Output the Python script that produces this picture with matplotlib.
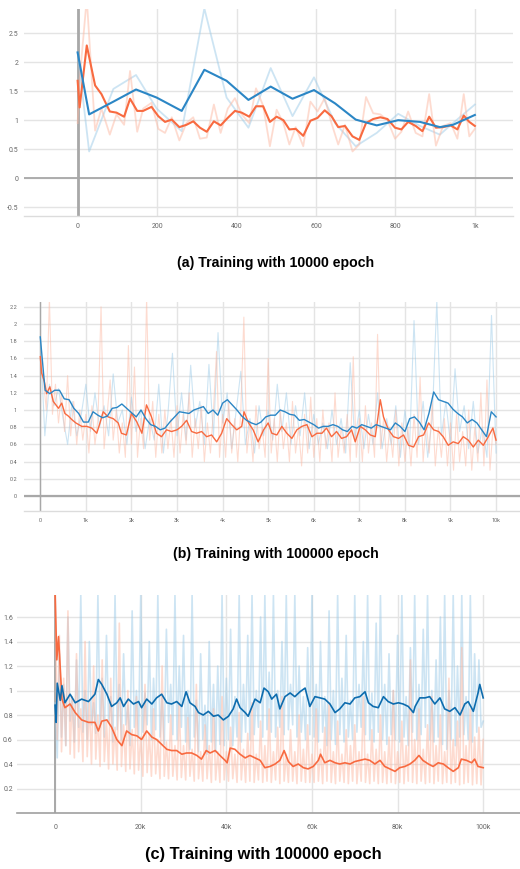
import numpy as np
import matplotlib
matplotlib.use("Agg")
import matplotlib.pyplot as plt

# ---------------- data (a) ----------------
a_orange_x = [0, 5, 23, 44, 60, 81, 98, 117, 132, 150, 165, 186, 203, 220, 237, 256, 274, 291, 308, 325,
              343, 360, 378, 396, 413, 432, 449, 467, 484, 501, 518, 533, 549, 568, 586, 604, 622, 639, 656, 673,
              692, 709, 726, 744, 762, 780, 799, 815, 832, 851, 868, 885, 902, 920, 939, 956, 972, 986, 1000]
a_orange_smooth = [1.68, 1.22, 2.29, 1.6, 1.45, 1.15, 1.13, 1.06, 1.37, 1.16, 1.16, 1.23, 1.07, 0.97, 1.01, 0.88, 0.92, 0.98, 0.87, 0.80,
                   0.98, 0.91, 1.04, 1.16, 1.13, 1.06, 1.24, 1.24, 0.97, 1.06, 1.0, 0.84, 0.85, 0.73, 0.99, 1.04, 1.17, 1.07, 0.88, 0.90,
                   0.72, 0.66, 0.95, 1.02, 1.05, 1.02, 0.87, 0.84, 0.97, 0.90, 0.81, 1.06, 0.87, 0.88, 0.91, 0.84, 1.08, 0.97, 0.90]
a_orange_raw = [0.95, 1.7, 3.1, 0.82, 1.2, 0.75, 1.1, 0.92, 1.85, 0.8, 1.2, 1.3, 0.85, 0.78, 1.05, 0.65, 0.95, 1.05, 0.68, 0.70,
                1.27, 0.78, 1.2, 1.38, 1.1, 0.95, 1.55, 1.25, 0.55, 1.18, 0.95, 0.58, 0.88, 0.55, 1.32, 1.15, 1.38, 0.95, 0.58, 0.92,
                0.46, 0.58, 1.4, 1.12, 1.1, 1.0, 0.68, 0.8, 1.15, 0.78, 0.72, 1.45, 0.56, 0.9, 0.95, 0.68, 1.45, 0.72, 0.85]
a_blue_x = [0, 29, 90, 147, 199, 262, 319, 375, 430, 486, 541, 595, 648, 700, 753, 807, 862, 912, 945, 1000]
a_blue_smooth = [2.17, 1.10, 1.32, 1.53, 1.39, 1.16, 1.87, 1.68, 1.35, 1.58, 1.37, 1.52, 1.29, 1.01, 0.91, 1.0, 0.97, 0.88, 0.92, 1.09]
a_blue_raw = [2.17, 0.46, 1.54, 1.78, 1.2, 0.81, 2.93, 1.39, 0.87, 1.9, 1.07, 1.74, 0.95, 0.55, 0.78, 1.11, 0.9, 0.75, 0.95, 1.27]
a_xticks = [0, 200, 400, 600, 800, 1000]
a_xticklabels = ["0", "200", "400", "600", "800", "1k"]
a_yticks = [-0.5, 0, 0.5, 1, 1.5, 2, 2.5]
a_yticklabels = ["-0.5", "0", "0.5", "1", "1.5", "2", "2.5"]

# ---------------- data (b) ----------------
b_blue_smooth = [1.85, 1.23, 1.19, 1.23, 1.23, 1.13, 1.12, 1.02, 0.96, 0.86,
                 0.86, 0.98, 0.94, 0.91, 0.93, 1.02, 1.03, 1.07, 1.02, 0.97,
                 0.92, 1.0, 0.9, 0.83, 0.81, 0.77, 0.79, 0.86, 0.92, 0.98,
                 0.97, 0.96, 1.0, 1.02, 1.04, 0.96, 1.0, 0.94, 1.08, 1.12,
                 1.06, 1.0, 0.93, 0.88, 0.85, 0.83, 0.86, 0.92, 0.94, 0.94,
                 1.0, 0.98, 0.95, 0.94, 0.88, 0.89, 0.86, 0.83, 0.79, 0.81,
                 0.81, 0.83, 0.81, 0.77, 0.75, 0.81, 0.79, 0.83, 0.81, 0.79,
                 0.83, 0.81, 0.79, 0.77, 0.85, 0.81, 0.75, 0.9, 0.92, 0.86,
                 0.77, 0.96, 1.21, 1.12, 1.1, 1.08, 1.01, 0.96, 0.92, 0.85,
                 0.89, 0.85, 0.77, 0.69, 0.98, 0.92]
b_blue_raw = [1.85, 0.70, 1.30, 1.05, 1.25, 0.90, 0.60, 1.10, 0.70, 0.95,
              1.30, 0.75, 1.20, 0.80, 1.05, 0.70, 1.42, 0.85, 1.00, 0.60,
              1.15, 0.75, 1.00, 0.55, 0.90, 0.65, 1.30, 0.50, 0.95, 1.66,
              0.70, 1.20, 0.65, 1.52, 0.80, 1.10, 0.60, 1.53, 0.70, 1.90,
              0.85, 1.20, 0.55, 1.00, 1.45, 0.60, 0.90, 0.50, 1.05, 0.70,
              1.00, 0.65, 1.30, 0.75, 1.20, 0.60, 1.05, 0.70, 1.20, 0.55,
              0.95, 0.60, 0.85, 0.55, 1.00, 0.60, 0.90, 0.50, 1.55, 0.65,
              1.00, 0.55, 0.95, 0.60, 1.20, 0.55, 0.90, 0.60, 1.05, 0.45,
              1.00, 0.55, 2.04, 0.60, 1.10, 0.45, 0.90, 2.27, 0.70, 1.10,
              0.60, 1.48, 0.75, 1.05, 0.55, 1.10, 0.50, 0.80, 0.45, 2.10,
              0.50]
b_orange_x = [0, 30, 90, 140, 210, 285, 400, 470, 540, 615,
              690, 780, 910, 1020, 1130, 1240, 1310, 1380, 1490, 1600,
              1710, 1780, 1890, 2000, 2120, 2230, 2330, 2440, 2550, 2660,
              2770, 2880, 3000, 3100, 3210, 3320, 3430, 3540, 3650, 3760,
              3870, 3980, 4090, 4200, 4310, 4420, 4470, 4570, 4670, 4780,
              4900, 5000, 5080, 5190, 5300, 5410, 5520, 5630, 5740, 5850,
              5960, 6070, 6180, 6280, 6390, 6500, 6610, 6720, 6830, 6910,
              7020, 7130, 7240, 7350, 7460, 7530, 7640, 7750, 7860, 7970,
              8080, 8190, 8300, 8410, 8520, 8630, 8740, 8840, 8950, 9060,
              9170, 9280, 9390, 9500, 9610, 9720, 9830, 9930, 10000]
b_orange_smooth = [1.62, 1.43, 1.33, 1.19, 1.27, 1.10, 1.02, 1.08, 0.96, 0.93,
                   0.89, 0.85, 0.81, 0.81, 0.79, 0.73, 0.85, 0.98, 0.92, 0.90,
                   0.85, 0.73, 0.71, 0.96, 0.86, 0.73, 1.06, 0.92, 0.73, 0.69,
                   0.77, 0.75, 0.77, 0.81, 0.88, 0.75, 0.73, 0.75, 0.69, 0.71,
                   0.63, 0.73, 0.90, 0.83, 0.77, 0.81, 0.98, 0.85, 0.77, 0.63,
                   0.77, 0.85, 0.73, 0.71, 0.81, 0.73, 0.67, 0.77, 0.81, 0.83,
                   0.69, 0.73, 0.73, 0.79, 0.69, 0.75, 0.67, 0.69, 0.77, 0.63,
                   0.81, 0.77, 0.71, 0.69, 1.12, 0.92, 0.77, 0.69, 0.67, 0.71,
                   0.59, 0.57, 0.69, 0.71, 0.85, 0.77, 0.75, 0.69, 0.59, 0.63,
                   0.61, 0.69, 0.65, 0.57, 0.65, 0.59, 0.69, 0.79, 0.65]
b_orange_raw = [1.60, 1.35, 1.00, 2.30, 0.95, 1.30, 0.85, 1.20, 0.75, 1.40, 0.70, 1.10, 0.60, 1.00, 0.65,
                0.95, 0.50, 1.05, 0.60, 0.90, 2.20, 0.55, 0.95, 1.35, 0.65, 1.00, 0.50, 0.85, 0.45, 1.75,
                0.60, 1.50, 0.45, 0.90, 0.55, 2.30, 0.65, 1.10, 0.45, 0.95, 0.50, 1.00, 0.55, 0.90, 0.45,
                1.05, 0.50, 0.95, 0.60, 1.20, 0.45, 0.90, 0.55, 1.05, 0.40, 0.85, 0.50, 1.00, 1.68, 0.45,
                0.95, 0.45, 1.10, 0.50, 0.90, 0.40, 1.00, 2.08, 0.50, 0.85, 0.40, 1.05, 0.55, 0.80, 0.45,
                1.60, 0.50, 0.90, 0.40, 1.00, 0.55, 0.85, 0.40, 1.10, 0.50, 0.80, 0.35, 0.95, 0.50, 1.15,
                0.45, 0.90, 0.40, 1.00, 0.55, 0.85, 0.40, 1.20, 0.45, 0.80, 0.50, 0.95, 0.40, 1.62, 0.45,
                0.90, 0.40, 1.05, 0.50, 0.85, 0.45, 1.88, 0.55, 0.90, 0.40, 0.80, 0.45, 1.00, 0.35, 0.85,
                0.40, 0.80, 0.35, 0.95, 0.45, 1.38, 0.40, 0.85, 0.50, 1.10, 0.35, 0.80, 0.45, 0.90, 0.35,
                0.85, 0.30, 0.95, 0.40, 0.75, 0.35, 1.00, 0.30, 0.80, 0.40, 1.20, 0.35, 1.35, 0.30, 0.80,
                0.60]
b_xticks = [0, 1000, 2000, 3000, 4000, 5000, 6000, 7000, 8000, 9000, 10000]
b_xticklabels = ["0", "1k", "2k", "3k", "4k", "5k", "6k", "7k", "8k", "9k", "10k"]
b_yticks = [0, 0.2, 0.4, 0.6, 0.8, 1.0, 1.2, 1.4, 1.6, 1.8, 2.0, 2.2]
b_yticklabels = ["0", "0.2", "0.4", "0.6", "0.8", "1", "1.2", "1.4", "1.6", "1.8", "2", "2.2"]

# ---------------- data (c) (x in thousands) ----------------
c_blue_x = [0, 0.25, 0.5, 1.2, 1.6, 2.3, 3.5, 4.7, 6.2, 7.8, 9.3, 10.1, 10.9, 12.1, 13.2, 14.4, 15.2, 16, 17.1, 18.3,
            19.5, 20.2, 21.4, 22.6, 23.7, 24.9, 26.1, 27.2, 28.4, 29.6, 30.6, 31.5, 32.7, 33.5, 34.6, 35.8, 37, 38.1, 39.3, 40.5,
            41.6, 42.4, 43.2, 44.4, 45.1, 45.9, 46.7, 47.9, 48.8, 49.8, 50.6, 51.7, 52.5, 53.7, 54.9, 56, 57.2, 58.4, 59.5, 60.7,
            61.9, 63, 64.2, 65.4, 66.5, 67.7, 68.9, 70, 71.2, 72.4, 73.2, 74.3, 75.5, 76.7, 77.8, 79, 80.2, 81.3, 82.5, 83.7,
            84.1, 85.2, 86.4, 87.5, 88.7, 89.9, 91, 92.2, 93.4, 94.6, 95.7, 96.5, 97.7, 98.8, 99.2, 100]
c_blue_smooth = [0.88, 0.74, 1.06, 0.92, 1.04, 0.90, 0.97, 0.90, 0.93, 0.91, 0.97, 1.09, 1.05, 0.97, 0.87, 0.90, 0.94, 0.87, 0.93, 0.89,
                 0.91, 0.86, 0.93, 0.89, 0.94, 0.97, 0.90, 0.89, 0.91, 0.87, 0.99, 0.90, 0.87, 0.82, 0.80, 0.83, 0.79, 0.80, 0.76, 0.79,
                 0.85, 0.93, 0.86, 0.82, 0.79, 0.86, 0.93, 0.90, 1.02, 0.99, 0.93, 0.97, 0.85, 0.95, 0.98, 0.95, 0.99, 1.02, 0.87, 0.95,
                 0.94, 0.93, 0.89, 0.82, 0.85, 0.90, 0.89, 0.94, 0.95, 0.99, 0.90, 0.87, 0.86, 0.95, 0.91, 0.89, 0.90, 0.89, 0.87, 0.82,
                 0.87, 0.94, 0.94, 0.95, 0.89, 0.94, 0.85, 0.83, 0.86, 0.80, 0.89, 0.91, 0.83, 0.98, 1.05, 0.94]
c_orange_x = [0, 0.4, 0.8, 1.6, 2.3, 3.5, 4.7, 6.2, 7.8, 9.3, 10.1, 10.9, 12.1, 13.2, 14.4, 15.6, 16.7, 17.9, 19.1, 20.2,
              21.4, 22.6, 23.7, 24.9, 26.1, 27.2, 28.4, 29.6, 30.7, 31.9, 33.1, 34.2, 35.3, 36.2, 37.4, 38.5, 39.7, 40.2, 40.9, 42,
              43.2, 44.4, 45.5, 46.7, 47.9, 49, 50.2, 51.4, 52.5, 53.5, 54.5, 55.6, 56.8, 58, 59.1, 60.3, 61.5, 62, 63, 64.2,
              65.4, 66.5, 67.7, 68.9, 70, 71.2, 72.4, 73.5, 74.7, 75.9, 77, 78.2, 79.4, 80.5, 81.7, 82.9, 84, 85, 85.9, 87.2,
              88.3, 89.5, 90.7, 91.8, 93, 94.2, 94.9, 96.1, 97.3, 98, 98.8, 100]
c_orange_smooth = [1.80, 1.25, 1.44, 0.93, 0.86, 0.89, 0.82, 0.76, 0.74, 0.74, 0.67, 0.75, 0.76, 0.70, 0.60, 0.55, 0.67, 0.64, 0.63, 0.60,
                   0.67, 0.62, 0.60, 0.56, 0.52, 0.51, 0.51, 0.48, 0.49, 0.49, 0.47, 0.44, 0.51, 0.49, 0.51, 0.47, 0.43, 0.41, 0.53, 0.52,
                   0.48, 0.45, 0.47, 0.45, 0.43, 0.37, 0.38, 0.40, 0.43, 0.51, 0.42, 0.38, 0.40, 0.37, 0.36, 0.38, 0.43, 0.48, 0.41, 0.43,
                   0.41, 0.40, 0.41, 0.40, 0.42, 0.43, 0.44, 0.43, 0.40, 0.43, 0.38, 0.36, 0.34, 0.37, 0.38, 0.40, 0.43, 0.47, 0.43, 0.40,
                   0.38, 0.41, 0.40, 0.37, 0.34, 0.37, 0.44, 0.43, 0.41, 0.44, 0.38, 0.37]
c_blue_raw = [0.90, 0.45, 1.30, 0.62, 1.05, 0.55, 1.60, 0.75, 0.95, 0.58, 1.25, 0.70, 1.78, 0.66, 1.00, 0.60, 1.40, 0.72, 0.90, 0.65,
              1.78, 0.70, 1.10, 0.62, 1.45, 0.75, 0.95, 0.58, 1.78, 0.68, 1.05, 0.60, 1.30, 0.72, 0.88, 0.55, 1.65, 0.70, 1.00, 0.62,
              1.78, 0.66, 0.98, 0.72, 1.40, 0.60, 1.10, 0.68, 1.78, 0.62, 0.95, 0.56, 1.50, 0.74, 1.05, 0.64, 1.78, 0.60, 1.20, 0.70,
              1.45, 0.58, 1.00, 0.52, 1.78, 0.62, 0.92, 0.50, 1.30, 0.60, 0.88, 0.48, 1.40, 0.58, 1.05, 0.50, 1.20, 0.56, 1.78, 0.55,
              1.10, 0.60, 1.50, 0.55, 0.95, 0.62, 1.78, 0.58, 1.05, 0.66, 1.45, 0.60, 1.78, 0.64, 1.00, 0.70, 1.60, 0.62, 1.78, 0.68,
              1.15, 0.66, 1.78, 0.62, 1.00, 0.70, 1.40, 0.64, 1.78, 0.68, 1.05, 0.72, 1.78, 0.62, 1.20, 0.66, 0.95, 0.60, 1.35, 0.64,
              1.78, 0.62, 1.05, 0.58, 1.40, 0.66, 0.95, 0.55, 1.65, 0.60, 1.00, 0.56, 1.78, 0.64, 1.10, 0.58, 1.45, 0.62, 0.92, 0.60,
              1.78, 0.66, 1.05, 0.70, 1.40, 0.64, 1.78, 0.60, 0.98, 0.58, 1.55, 0.66, 1.78, 0.60, 1.05, 0.56, 1.30, 0.64, 1.00, 0.60,
              1.45, 0.58, 1.78, 0.62, 0.95, 0.55, 1.35, 0.66, 1.78, 0.60, 1.05, 0.64, 1.50, 0.70, 1.78, 0.60, 1.00, 0.58, 1.25, 0.62,
              1.60, 0.56, 1.78, 0.52, 1.00, 0.60, 1.78, 0.55, 1.20, 0.62, 1.78, 0.64, 0.95, 0.60, 1.78, 0.58, 1.30, 0.66, 1.25, 0.70,
              0.75]
c_orange_raw = [1.78, 0.60, 1.45, 0.50, 1.10, 0.55, 1.65, 0.48, 0.95, 0.45, 1.30, 0.50, 0.85, 0.42, 1.40, 0.46, 0.90, 0.40, 1.20, 0.44,
                0.80, 0.38, 1.25, 0.42, 0.75, 0.36, 1.10, 0.40, 0.70, 0.35, 1.55, 0.38, 0.72, 0.34, 1.00, 0.36, 0.68, 0.32, 0.95, 0.35,
                0.62, 0.30, 1.05, 0.33, 0.65, 0.30, 0.85, 0.32, 0.60, 0.28, 1.20, 0.30, 0.58, 0.28, 0.80, 0.30, 0.55, 0.27, 0.90, 0.29,
                0.55, 0.27, 0.78, 0.30, 0.52, 0.26, 1.05, 0.28, 0.50, 0.26, 0.72, 0.28, 0.55, 0.25, 0.85, 0.27, 0.50, 0.25, 0.95, 0.27,
                0.50, 0.26, 0.70, 0.28, 0.48, 0.25, 0.82, 0.27, 0.52, 0.25, 0.65, 0.26, 0.90, 0.25, 0.48, 0.27, 0.75, 0.25, 0.55, 0.26,
                0.85, 0.25, 0.50, 0.27, 0.70, 0.24, 0.95, 0.26, 0.48, 0.25, 0.68, 0.26, 0.50, 0.24, 0.80, 0.26, 0.52, 0.25, 0.72, 0.25,
                0.48, 0.25, 0.85, 0.26, 0.52, 0.24, 0.70, 0.26, 0.90, 0.25, 0.50, 0.24, 0.75, 0.26, 0.48, 0.25, 0.68, 0.24, 0.55, 0.26,
                0.72, 0.24, 0.50, 0.26, 0.95, 0.25, 0.48, 0.24, 0.68, 0.26, 0.52, 0.24, 0.80, 0.25, 0.50, 0.24, 0.62, 0.25, 1.00, 0.24,
                0.50, 0.25, 0.75, 0.24, 0.55, 0.26, 1.25, 0.25, 0.60, 0.24, 0.85, 0.26, 0.52, 0.24, 0.72, 0.25, 0.95, 0.24, 0.55, 0.26,
                0.80, 0.24, 0.50, 0.25, 1.10, 0.24, 0.60, 0.25, 0.75, 0.23, 1.35, 0.24, 0.55, 0.25, 0.85, 0.23, 0.62, 0.24, 0.70, 0.23,
                0.60]
c_xticks = [0, 20, 40, 60, 80, 100]
c_xticklabels = ["0", "20k", "40k", "60k", "80k", "100k"]
c_yticks = [0.2, 0.4, 0.6, 0.8, 1.0, 1.2, 1.4, 1.6]
c_yticklabels = ["0.2", "0.4", "0.6", "0.8", "1", "1.2", "1.4", "1.6"]

captions = ["(a) Training with 10000 epoch", "(b) Training with 100000 epoch", "(c) Training with 100000 epoch"]

# ---------------- style ----------------
BLUE = "#2b86c5"
BLUE_C = "#0d6cae"
ORANGE = "#f86a40"
LBLUE = "#9ccbe8"
LORANGE = "#fdb9a3"
GRID = "#e4e4e4"
ZERO = "#a8a8a8"
TICKC = "#666666"
TFONT = ["Roboto", "DejaVu Sans"]

W, H = 520, 869
fig = plt.figure(figsize=(W / 100, H / 100), dpi=100)


def box(l, t, r, b):
    return [l / W, 1 - b / H, (r - l) / W, (b - t) / H]


def style(ax, xlim, ylim, xt, xtl, yt, ytl, fs, xpad, ypad):
    ax.set_xlim(*xlim)
    ax.set_ylim(*ylim)
    ax.set_xticks(xt)
    ax.set_xticklabels(xtl, fontsize=fs, color=TICKC, family=TFONT)
    ax.set_yticks(yt)
    ax.set_yticklabels(ytl, fontsize=fs, color=TICKC, family=TFONT)
    ax.tick_params(length=0, pad=0)
    ax.tick_params(axis="x", pad=xpad)
    ax.tick_params(axis="y", pad=ypad)
    ax.grid(True, color=GRID, lw=1.0, zorder=0)
    ax.set_axisbelow(True)
    for s in ["top", "right", "left"]:
        ax.spines[s].set_visible(False)
    ax.spines["bottom"].set_color("#dcdcdc")
    ax.spines["bottom"].set_linewidth(1.0)


# ---- (a)
ax = fig.add_axes(box(24, 9, 513, 216))
style(ax, (-135, 1096), (-0.655, 2.92), a_xticks, a_xticklabels, a_yticks, a_yticklabels, 5.0, 5, 4)
ax.axhline(0, color=ZERO, lw=1.3, zorder=1)
ax.axvline(0, color=ZERO, lw=2.0, zorder=1)
ax.plot(a_blue_x, a_blue_raw, color=LBLUE, lw=1.3, alpha=0.5, zorder=2)
ax.plot(a_orange_x, a_orange_raw, color=LORANGE, lw=1.3, alpha=0.5, zorder=2)
ax.plot(a_blue_x, a_blue_smooth, color=BLUE, lw=1.5, zorder=4)
ax.plot(a_orange_x, a_orange_smooth, color=ORANGE, lw=1.5, zorder=3)

# ---- (b)
ax = fig.add_axes(box(24, 302, 520, 511))
style(ax, (-357, 10525), (-0.174, 2.256), b_xticks, b_xticklabels, b_yticks, b_yticklabels, 4.0, 5, 5)
ax.axhline(0, color=ZERO, lw=1.6, zorder=1)
ax.axvline(0, color=ZERO, lw=1.0, zorder=1)
bbx = np.linspace(0, 10000, len(b_blue_raw))
box_ = np.linspace(0, 10000, len(b_orange_raw))
bsx = np.linspace(0, 10000, len(b_blue_smooth))
ax.plot(bbx, b_blue_raw, color=LBLUE, lw=0.8, alpha=0.5, zorder=2)
ax.plot(box_, b_orange_raw, color=LORANGE, lw=0.8, alpha=0.5, zorder=2)
ax.plot(bsx, b_blue_smooth, color=BLUE, lw=1.0, zorder=4)
n = min(len(b_orange_x), len(b_orange_smooth))
ax.plot(b_orange_x[:n], b_orange_smooth[:n], color=ORANGE, lw=1.0, zorder=3)

# ---- (c)
ax = fig.add_axes(box(17, 595, 520, 813))
style(ax, (-8.9, 108.6), (0.0, 1.78), c_xticks, c_xticklabels, c_yticks, c_yticklabels, 5.0, 8, 3)
ax.spines["bottom"].set_color("#a0a0a0")
ax.spines["bottom"].set_linewidth(1.2)
ax.axvline(0, color=ZERO, lw=1.4, zorder=1)
cbx = np.linspace(0, 100, len(c_blue_raw))
cox = np.linspace(0, 100, len(c_orange_raw))
ax.plot(cbx, c_blue_raw, color=LBLUE, lw=1.2, alpha=0.5, zorder=2)
ax.plot(cox, c_orange_raw, color=LORANGE, lw=1.2, alpha=0.5, zorder=2)
ax.plot(c_blue_x, c_blue_smooth, color=BLUE_C, lw=1.2, zorder=4)
ax.plot(c_orange_x, c_orange_smooth, color=ORANGE, lw=1.2, zorder=3)

# ---- captions
fig.text(276 / W, 1 - 263 / H, captions[0], ha="center", va="center", fontsize=10.2,
         fontweight="bold", family=["Liberation Sans", "DejaVu Sans"])
fig.text(276 / W, 1 - 554 / H, captions[1], ha="center", va="center", fontsize=10.2,
         fontweight="bold", family=["Liberation Sans", "DejaVu Sans"])
fig.text(263 / W, 1 - 855 / H, captions[2], ha="center", va="center", fontsize=11.8,
         fontweight="bold", family=["Liberation Sans", "DejaVu Sans"])

fig.savefig("out.png", dpi=100)
